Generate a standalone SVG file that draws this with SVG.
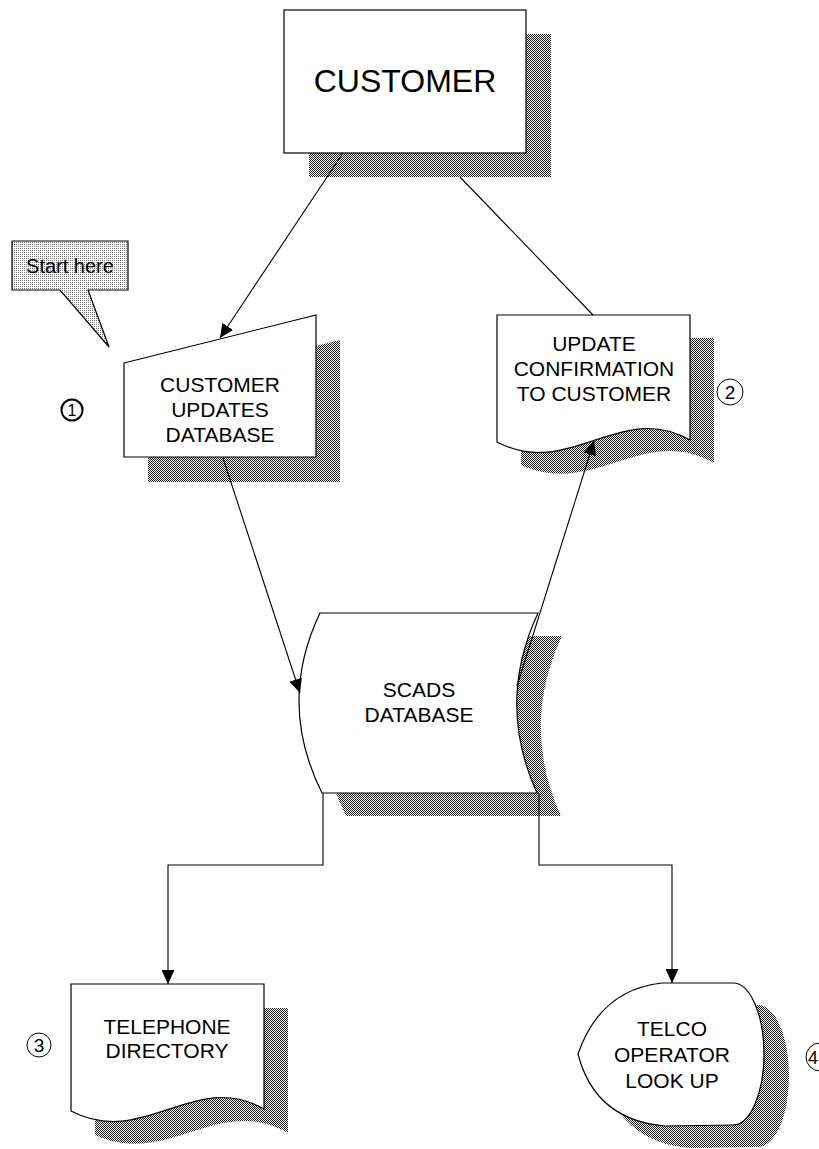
<svg xmlns="http://www.w3.org/2000/svg" width="819" height="1149" viewBox="0 0 819 1149">
<defs>
<pattern id="dk" width="2" height="2" patternUnits="userSpaceOnUse"><rect width="2" height="2" fill="#fff"/><rect width="1" height="1" fill="#1a1a1a"/><rect x="1" y="1" width="1" height="1" fill="#1a1a1a"/></pattern>
<pattern id="lt" width="2" height="2" patternUnits="userSpaceOnUse"><rect width="2" height="2" fill="#fff"/><rect width="1" height="1" fill="#777"/></pattern>
<marker id="ah" viewBox="0 0 14 13" refX="14" refY="6.5" markerWidth="14" markerHeight="13" markerUnits="userSpaceOnUse" orient="auto"><path d="M0,0 L14,6.5 L0,13 Z" fill="#000"/></marker>
</defs>
<style>
.sh{fill:url(#dk);stroke:none}
.nd{fill:#fff;stroke:#000;stroke-width:1.2}
.t{font-family:"Liberation Sans",Arial,sans-serif;fill:#000;text-anchor:middle}
.c{fill:none;stroke:#000;stroke-width:1.1}
.num{fill:#fff;stroke:#000;stroke-width:1}
</style>
<rect width="819" height="1149" fill="#fff"/>

<g id="customer">
<rect class="sh" x="309" y="34" width="242" height="143"/>
<rect class="nd" x="284" y="10" width="242" height="143"/>
<text class="t" x="405" y="92" font-size="32">CUSTOMER</text>
</g>

<g id="start-here">
<path d="M12,241 H128 V290 H88 L109,347 L60,290 H12 Z" fill="url(#lt)" stroke="#000" stroke-width="1.2"/>
<text class="t" x="70" y="273" font-size="20">Start here</text>
</g>

<g id="customer-updates">
<path class="sh" d="M148,388 L340,340 L340,482 L148,482 Z"/>
<path class="nd" d="M124,363 L316,315 L316,457 L124,457 Z"/>
<text class="t" font-size="21"><tspan x="220" y="392">CUSTOMER</tspan><tspan x="220" y="417">UPDATES</tspan><tspan x="220" y="442">DATABASE</tspan></text>
</g>
<g id="n1">
<circle cx="72" cy="410" r="10.5" fill="#fff" stroke="#000" stroke-width="2"/>
<text class="t" x="72" y="416" font-size="16">1</text>
</g>

<g id="update-confirmation">
<path class="sh" d="M521,338 H714 V463 C644,423 594,498 521,465 Z"/>
<path class="nd" d="M497,315 H690 V440 C620,400 570,480 497,442 Z"/>
<text class="t" font-size="21"><tspan x="594" y="351">UPDATE</tspan><tspan x="594" y="376">CONFIRMATION</tspan><tspan x="594" y="401">TO CUSTOMER</tspan></text>
</g>
<g id="n2">
<circle class="num" cx="730" cy="392" r="13"/>
<text class="t" x="730" y="399" font-size="19">2</text>
</g>

<g id="scads">
<path class="sh" d="M344,636 L562,636 Q 520,726 561,816 L346,816 Q 301,726 344,636 Z"/>
<path class="nd" d="M320,613 L538,613 Q 496,703 537,793 L322,793 Q 277,703 320,613 Z"/>
<text class="t" font-size="21"><tspan x="419" y="697">SCADS</tspan><tspan x="419" y="722">DATABASE</tspan></text>
</g>

<g id="telephone">
<path class="sh" d="M95,1008 H288 V1133 C218,1093 168,1168 95,1135 Z"/>
<path class="nd" d="M71,984 H264 V1109 C194,1069 144,1149 71,1111 Z"/>
<text class="t" font-size="21"><tspan x="167" y="1034">TELEPHONE</tspan><tspan x="167" y="1058">DIRECTORY</tspan></text>
</g>
<g id="n3">
<circle class="num" cx="39" cy="1045" r="12"/>
<text class="t" x="39" y="1052" font-size="19">3</text>
</g>

<g id="telco">
<path class="sh" d="M603,1076 Q 625,1012 690,1005 L758,1005 A 31 71 0 0 1 758,1147 L690,1148 Q 620,1142 603,1076 Z"/>
<path class="nd" d="M578,1054 Q 600,990 662,983 L733,983 A 31 71 0 0 1 733,1125 L665,1126 Q 595,1120 578,1054 Z"/>
<text class="t" font-size="21"><tspan x="672" y="1036">TELCO</tspan><tspan x="672" y="1062">OPERATOR</tspan><tspan x="672" y="1088">LOOK UP</tspan></text>
</g>
<g id="n4">
<circle class="num" cx="820" cy="1057" r="14"/>
<text class="t" x="818" y="1064" font-size="18" text-anchor="end" style="text-anchor:end">4</text>
</g>

<g id="connectors">
<line class="c" x1="343" y1="153" x2="220" y2="338" marker-end="url(#ah)"/>
<line class="c" x1="460" y1="177" x2="593" y2="315"/>
<line class="c" x1="223" y1="458" x2="300" y2="693" marker-end="url(#ah)"/>
<line class="c" x1="517" y1="686" x2="594" y2="441" marker-end="url(#ah)"/>
<polyline class="c" points="323,793 323,865 168,865 168,984" marker-end="url(#ah)"/>
<polyline class="c" points="539,793 539,865 672,865 672,983" marker-end="url(#ah)"/>
</g>
</svg>
